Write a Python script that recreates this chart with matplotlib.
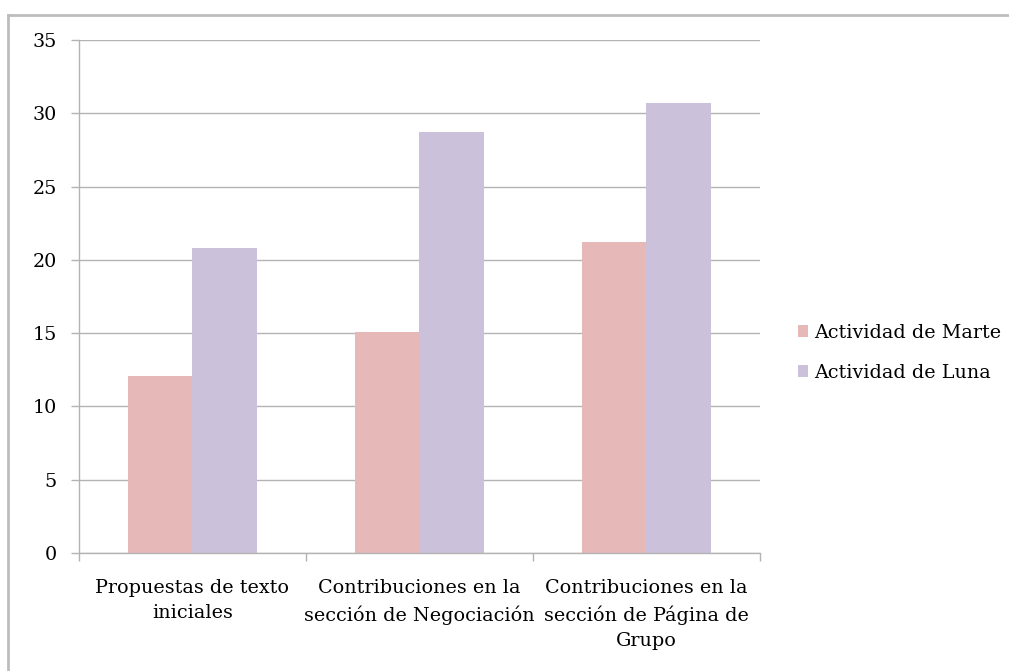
import matplotlib
matplotlib.use('Agg')
import matplotlib.pyplot as plt
import numpy as np
from matplotlib.lines import Line2D

plt.rcParams['font.family'] = ['DejaVu Serif']

# Datos
categorias = ['Propuestas de texto\niniciales',
              'Contribuciones en la\nsección de Negociación',
              'Contribuciones en la\nsección de Página de\nGrupo']
marte = [12.1, 15.1, 21.2]
luna = [20.8, 28.7, 30.7]
series = ['Actividad de Marte', 'Actividad de Luna']
colores = ['#E6B9B8', '#CCC1DA']
gris = '#B3B3B3'
fs = 13.8

fig = plt.figure(figsize=(10.09, 6.71), dpi=100)
ax = fig.add_axes([79 / 1009, 1 - 553 / 671, (760 - 79) / 1009, (553 - 40) / 671])

x = np.arange(len(categorias))
w = 1 / 3.5
ax.bar(x - w / 2, marte, width=w, color=colores[0], label=series[0], zorder=2)
ax.bar(x + w / 2, luna, width=w, color=colores[1], label=series[1], zorder=2)

ax.set_xlim(-0.5, 2.5)
ax.set_ylim(0, 35)
ax.set_yticks(range(0, 36, 5))
ax.yaxis.grid(True, color=gris, linewidth=1.0, zorder=0)
ax.set_axisbelow(True)

# eje x: marcas en los límites de las categorías
ax.set_xticks([-0.5, 0.5, 1.5, 2.5])
ax.set_xticklabels([])
ax.set_xticks(x, minor=True)
ax.set_xticklabels(categorias, minor=True, fontsize=fs, linespacing=1.5)
ax.tick_params(axis='x', which='minor', length=0, pad=19)
ax.tick_params(axis='x', which='major', length=6, color=gris, width=1.0)
ax.tick_params(axis='y', length=6, color=gris, width=1.0, pad=10, labelsize=fs)
for lbl in ax.get_xticklabels(minor=True):
    lbl.set_verticalalignment('top')

for s in ['top', 'right']:
    ax.spines[s].set_visible(False)
for s in ['left', 'bottom']:
    ax.spines[s].set_color(gris)
    ax.spines[s].set_linewidth(1.0)

ax.legend(loc='center left', bbox_to_anchor=(1.045, 0.39), frameon=False,
          fontsize=fs, handlelength=0.5, handleheight=0.55, handletextpad=0.35,
          labelspacing=1.15, borderaxespad=0)

# borde del gráfico
fig.add_artist(Line2D([8 / 1009, 1.0], [1 - 15 / 671, 1 - 15 / 671],
                      transform=fig.transFigure, color='#BDBDBD', linewidth=2))
fig.add_artist(Line2D([8 / 1009, 8 / 1009], [0, 1 - 15 / 671],
                      transform=fig.transFigure, color='#BDBDBD', linewidth=2))

fig.savefig('out.png', dpi=100)
